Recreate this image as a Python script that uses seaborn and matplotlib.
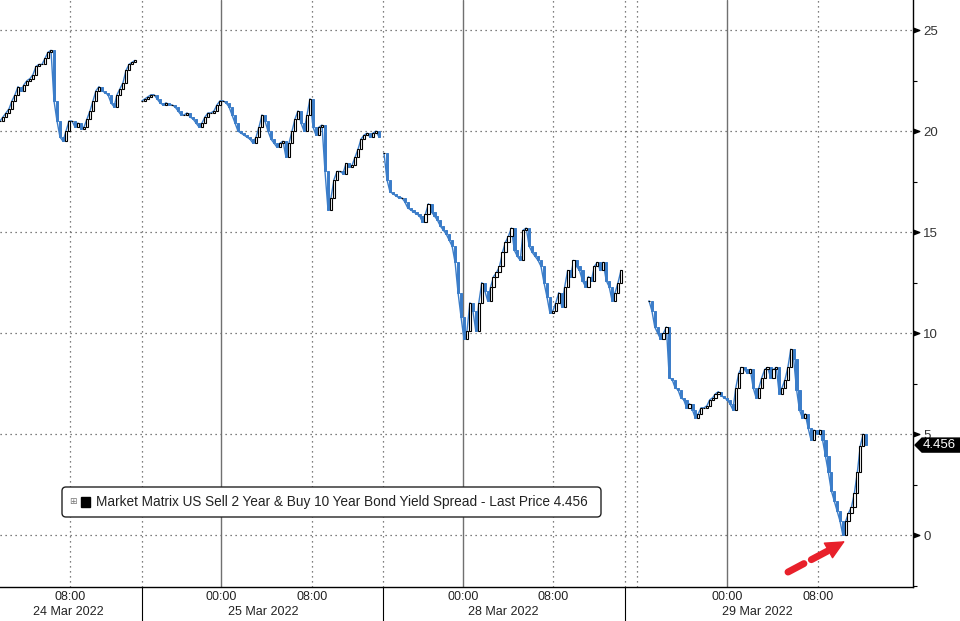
import numpy as np
import pandas as pd
import matplotlib
matplotlib.use("Agg")
import matplotlib.pyplot as plt
import matplotlib.transforms as mtransforms
from matplotlib.patches import Polygon, FancyBboxPatch, Rectangle
import seaborn as sns

# -------------------- DATA --------------------

session_names = ["24 Mar", "25 Mar", "28 Mar", "29 Mar"]

# closing level of each bar, one list per trading session
close_24 = [20.5, 20.7, 20.9, 21.1, 21.5, 21.8, 22.2, 22.0, 22.3, 22.5, 22.6, 22.8,
            23.2, 23.3, 23.3, 23.6, 23.9, 24.0, 21.5, 20.5, 19.7, 19.5, 20.0, 20.5,
            20.5, 20.2, 20.4, 20.1, 20.2, 20.6, 21.0, 21.5, 22.0, 22.2, 22.0, 21.9,
            21.8, 21.4, 21.2, 21.8, 22.1, 22.4, 23.0, 23.3, 23.4, 23.5]
close_25 = [21.5, 21.6, 21.7, 21.8, 21.8, 21.6, 21.4, 21.3, 21.4, 21.3, 21.3, 21.2,
            21.0, 20.8, 20.8, 20.9, 20.7, 20.6, 20.4, 20.2, 20.4, 20.7, 20.9, 20.9,
            21.0, 21.3, 21.5, 21.5, 21.4, 21.2, 20.8, 20.4, 20.0, 19.9, 19.8, 19.7,
            19.6, 19.4, 19.7, 20.2, 20.8, 20.5, 20.0, 19.6, 19.4, 19.2, 19.4, 19.5,
            18.7, 19.4, 20.0, 20.6, 21.0, 20.4, 20.0, 20.8, 21.6, 20.2, 19.8, 20.2,
            20.3, 18.0, 16.1, 16.7, 17.6, 18.0, 18.0, 17.9, 18.4, 18.2, 18.3, 18.7,
            19.1, 19.6, 19.8, 19.9, 19.7, 19.9, 20.0, 19.7]
close_28 = [18.9, 17.6, 17.0, 16.9, 16.8, 16.7, 16.7, 16.5, 16.2, 16.1, 16.0, 15.9,
            15.8, 15.5, 15.9, 16.4, 16.0, 15.8, 15.6, 15.3, 15.1, 14.9, 14.6, 14.3,
            13.5, 12.0, 10.8, 9.7, 10.1, 11.5, 11.1, 10.1, 11.5, 12.5, 12.1, 11.6,
            12.3, 12.8, 13.0, 13.3, 14.0, 14.5, 14.8, 15.2, 14.1, 13.8, 13.6, 15.1,
            15.2, 14.3, 14.0, 13.8, 13.6, 13.3, 12.5, 11.8, 11.0, 11.1, 11.5, 12.0,
            11.3, 12.3, 13.1, 12.8, 13.6, 13.3, 13.1, 12.6, 12.3, 12.8, 12.6, 13.3,
            13.5, 13.1, 13.5, 12.6, 12.3, 11.6, 12.0, 12.5, 13.1]
close_29 = [11.6, 11.1, 10.3, 10.0, 9.7, 10.0, 10.3, 7.8, 7.7, 7.3, 7.2, 6.8,
            6.7, 6.3, 6.5, 6.2, 5.8, 6.0, 6.3, 6.3, 6.4, 6.7, 6.8, 7.0,
            7.1, 6.9, 6.8, 6.7, 6.5, 6.2, 7.3, 8.0, 8.3, 8.2, 8.0, 8.2,
            7.3, 6.8, 7.3, 7.8, 8.2, 8.3, 7.8, 8.2, 8.3, 7.0, 7.3, 7.7,
            8.3, 9.2, 8.7, 7.2, 6.2, 5.8, 6.0, 5.3, 4.7, 5.2, 5.0, 5.2,
            4.7, 3.9, 3.1, 2.2, 1.7, 1.2, 0.7, 0.0, 0.7, 1.1, 1.4, 2.1,
            3.1, 4.4, 5.0, 4.456]

# session spans on the compressed intraday time axis (chart slots)
session_start = [0, 142, 384, 649]
session_end = [135, 379, 621, 866]

time_ticks = [70, 221, 312, 463, 553, 727, 818]
time_labels = ["08:00", "00:00", "08:00", "00:00", "08:00", "00:00", "08:00"]
minor_time_ticks = [26, 116, 176, 266, 357, 418, 508, 599, 682, 773, 863]
midnight_ticks = [221, 463, 727]
dotted_vlines = [70, 142, 312, 383, 553, 625, 637, 818]
day_breaks = [142, 383, 625]
day_labels = ["24 Mar 2022", "25 Mar 2022", "28 Mar 2022", "29 Mar 2022"]
day_centers = [68, 263, 503, 757]

y_ticks = [0, 5, 10, 15, 20, 25]
last_price = 4.456
legend_label = "Market Matrix US Sell 2 Year & Buy 10 Year Bond Yield Spread - Last Price 4.456"

# -------------------- DATA PROCESSING --------------------

frames = []
for name, vals, x0, x1 in zip(session_names, [close_24, close_25, close_28, close_29],
                              session_start, session_end):
    c = np.array(vals, dtype=float)
    o = np.r_[c[0], c[:-1]]
    frames.append(pd.DataFrame({"session": name, "x": np.linspace(x0, x1, len(c)),
                                "open": o, "close": c}))
df = pd.concat(frames, ignore_index=True)
df["up"] = df["close"] >= df["open"]

# -------------------- VISUALIZATION --------------------

sns.set_style("white")
plt.rcParams["font.family"] = ["Liberation Sans", "DejaVu Sans"]

BLUE = "#3b7dc9"
GRID = "#555555"
RED = "#e8202a"

fig = plt.figure(figsize=(9.6, 6.21), dpi=100)
ax = fig.add_axes([0, 34 / 621, 913 / 960, 587 / 621])

sns.lineplot(data=df, x="x", y="close", units="session", estimator=None,
             color=BLUE, lw=1.0, ax=ax, legend=False, zorder=2)

dn = df[~df["up"]]
up = df[df["up"]]
ax.bar(dn["x"], dn["close"] - dn["open"], bottom=dn["open"], width=2.3,
       color=BLUE, edgecolor=BLUE, linewidth=0.7, zorder=3)
ax.bar(up["x"], up["close"] - up["open"], bottom=up["open"], width=2.3,
       color="white", edgecolor="black", linewidth=0.8, zorder=4)

ax.set_xlim(0, 913)
ax.set_ylim(-2.57, 26.49)
ax.set_xlabel("")
ax.set_ylabel("")

# grid
for yv in y_ticks:
    ax.axhline(yv, color=GRID, lw=0.9, ls=(0, (1, 3)), zorder=1)
for xv in dotted_vlines:
    ax.axvline(xv, color=GRID, lw=0.9, ls=(0, (1, 3)), zorder=1)
for xv in midnight_ticks:
    ax.axvline(xv, color="#707070", lw=1.0, zorder=1)

# spines
for s in ["left", "top"]:
    ax.spines[s].set_visible(False)
for s in ["right", "bottom"]:
    ax.spines[s].set_color("black")
    ax.spines[s].set_linewidth(1.0)

# right y axis with triangle markers
ax.yaxis.tick_right()
ax.set_yticks(y_ticks)
ax.set_yticklabels([str(v) for v in y_ticks])
ax.set_yticks(np.arange(-2.5, 26, 5), minor=True)
ax.tick_params(axis="y", which="major", length=0, pad=7.5, labelsize=9.5, labelcolor="#333333")
ax.tick_params(axis="y", which="minor", length=3, width=0.8, direction="out", color="black")
ytrans = mtransforms.blended_transform_factory(ax.transAxes, ax.transData)
tri = [(0, -0.6), (1.6, 0), (0, 0.6)]
ax.plot(np.ones(len(y_ticks)), y_ticks, ls="none", marker=tri, ms=9, color="black",
        transform=ytrans, clip_on=False, zorder=6)

# bottom time axis
ax.set_xticks(time_ticks)
ax.set_xticklabels(time_labels)
ax.set_xticks(minor_time_ticks, minor=True)
ax.tick_params(axis="x", which="major", length=0, pad=3, labelsize=9, labelcolor="#222222")
ax.tick_params(axis="x", which="minor", length=3, width=0.8, direction="out", color="black")
xtrans = mtransforms.blended_transform_factory(ax.transData, ax.transAxes)
for xc, lab in zip(day_centers, day_labels):
    ax.text(xc, -0.0425, lab, transform=xtrans, ha="center", va="center",
            fontsize=9, color="#222222")
for xb in day_breaks:
    ax.plot([xb, xb], [0, -0.06], transform=xtrans, color="black", lw=0.8, clip_on=False)

# red dashed arrow pointing at the low
ax.annotate("", xy=(831, -0.70), xytext=(788, -1.83),
            arrowprops=dict(arrowstyle="-", color=RED, lw=5, ls=(0, (2.6, 1.2)),
                            shrinkA=0, shrinkB=0))
ax.annotate("", xy=(845, -0.30), xytext=(827, -0.80),
            arrowprops=dict(arrowstyle="-|>,head_length=1.25,head_width=0.6",
                            color=RED, lw=1, shrinkA=0, shrinkB=0))

# last price tag on the right axis
ident = mtransforms.IdentityTransform()
yd = ax.transData.transform((0, last_price))[1]
tag = Polygon([(915, yd), (922, yd + 7), (960, yd + 7), (960, yd - 7), (922, yd - 7)],
              closed=True, fc="black", ec="black", transform=ident, zorder=10)
fig.add_artist(tag)
fig.text(939 / 960, yd / 621, f"{last_price:.3f}", ha="center", va="center",
         color="white", fontsize=9.5, zorder=11)

# legend box
box = FancyBboxPatch((62, 104), 539, 30, boxstyle="round,pad=0,rounding_size=4",
                     fc="white", ec="#222222", lw=1.0, transform=ident, zorder=10)
fig.add_artist(box)
fig.text(73 / 960, 119 / 621, "\u229e", ha="center", va="center", fontsize=6.5,
         color="#777777", family="DejaVu Sans", zorder=11)
fig.add_artist(Rectangle((80.5, 114), 9.5, 10, fc="black", ec="black",
                         transform=ident, zorder=11))
fig.text(96 / 960, 119 / 621, legend_label, ha="left", va="center", fontsize=9.8,
         color="#222222", zorder=11)

fig.savefig("out.png", dpi=100)
